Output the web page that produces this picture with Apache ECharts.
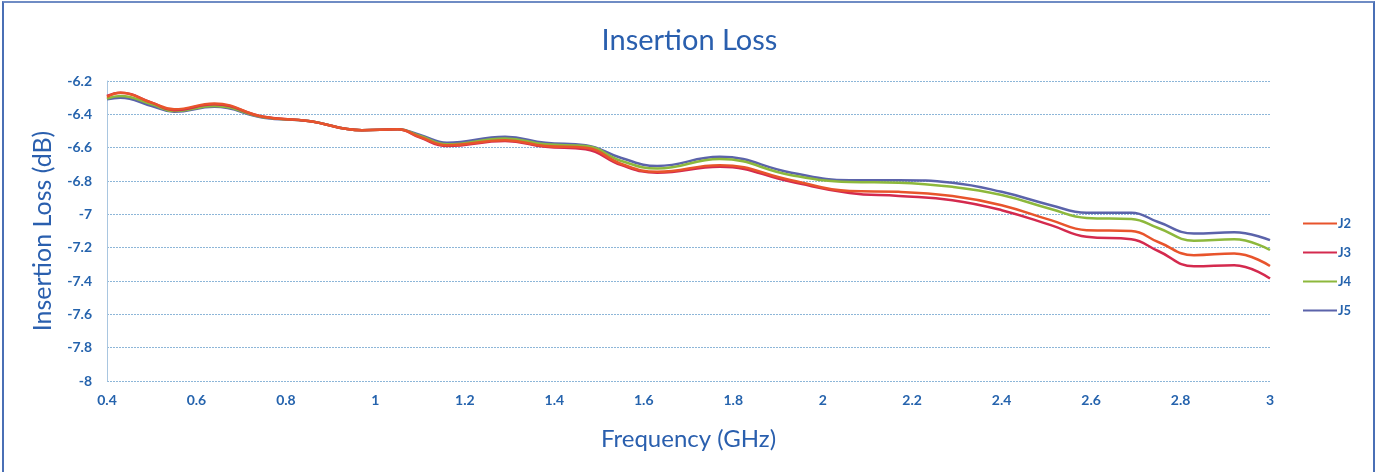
<!DOCTYPE html>
<html>
<head>
<meta charset="utf-8">
<script src="https://cdn.jsdelivr.net/npm/echarts@6/dist/echarts.min.js"></script>
<style>
html,body{margin:0;padding:0;background:#fff;}
#frame{position:absolute;left:2px;top:1px;width:1373px;height:471px;border-left:2px solid #4a6fb5;border-right:2px solid #4a6fb5;border-top:2px solid #6f8cc4;box-sizing:border-box;}
#chart{position:absolute;left:0;top:0;width:1379px;height:472px;}
</style>
</head>
<body>
<div id="frame"></div>
<div id="chart"></div>
<script>
const freqs = [0.4, 0.43, 0.5, 0.55, 0.64, 0.75, 0.85, 0.97, 1.05, 1.10, 1.16, 1.29, 1.38, 1.47, 1.55, 1.63, 1.77, 1.93, 2.06, 2.17, 2.29, 2.40, 2.51, 2.59, 2.69, 2.75, 2.83, 2.92, 3.0];
const J2 = [-6.295, -6.27, -6.33, -6.37, -6.335, -6.415, -6.44, -6.495, -6.49, -6.536, -6.585, -6.555, -6.59, -6.60, -6.698, -6.745, -6.705, -6.795, -6.86, -6.865, -6.89, -6.945, -7.035, -7.095, -7.10, -7.166, -7.245, -7.235, -7.31];
const J3 = [-6.29, -6.27, -6.33, -6.375, -6.34, -6.415, -6.44, -6.495, -6.49, -6.54, -6.59, -6.56, -6.595, -6.61, -6.705, -6.75, -6.715, -6.805, -6.872, -6.89, -6.915, -6.975, -7.065, -7.135, -7.15, -7.22, -7.312, -7.305, -7.385];
const J4 = [-6.305, -6.29, -6.34, -6.38, -6.35, -6.418, -6.44, -6.495, -6.49, -6.53, -6.58, -6.545, -6.58, -6.59, -6.68, -6.725, -6.668, -6.765, -6.806, -6.81, -6.835, -6.884, -6.968, -7.022, -7.028, -7.082, -7.158, -7.15, -7.214];
const J5 = [-6.31, -6.30, -6.35, -6.385, -6.355, -6.42, -6.44, -6.495, -6.49, -6.524, -6.57, -6.535, -6.57, -6.585, -6.662, -6.71, -6.655, -6.75, -6.795, -6.795, -6.81, -6.865, -6.945, -6.99, -6.99, -7.046, -7.115, -7.108, -7.155];
const seriesNames = ['J2', 'J3', 'J4', 'J5'];
const seriesData = [J2, J3, J4, J5];
const colors = ['#e8542c', '#d42a4e', '#8db83c', '#5b63aa'];

const textColor = '#2563ad';
const font = 'Lato, "Open Sans", sans-serif';
const chart = echarts.init(document.getElementById('chart'));
chart.setOption({
  animation: false,
  title: {
    text: 'Insertion Loss', left: 'center', top: 21,
    textStyle: {color: '#2a5fae', fontSize: 29, fontWeight: 'normal', fontFamily: font}
  },
  legend: {
    orient: 'vertical', left: 1298, top: 212, itemGap: 16, itemWidth: 34, itemHeight: 15,
    icon: 'path://M0,6 L34,6 L34,8 L0,8 Z',
    textStyle: {color: textColor, fontSize: 13, fontWeight: 'bold', fontFamily: font, padding: [0,0,0,-4]},
    data: seriesNames
  },
  grid: {left: 107, right: 109, top: 81, bottom: 91, containLabel: false},
  xAxis: {
    type: 'value', min: 0.4, max: 3, interval: 0.2,
    name: 'Frequency (GHz)', nameLocation: 'middle', nameGap: 46,
    nameTextStyle: {color: '#2a5fae', fontSize: 24, fontFamily: font},
    axisLine: {show: false}, axisTick: {show: false},
    splitLine: {show: false},
    axisLabel: {color: textColor, fontSize: 14, fontWeight: 'bold', fontFamily: font, margin: 12,
      formatter: v => String(Math.round(v * 10) / 10)}
  },
  yAxis: {
    type: 'value', min: -8, max: -6.2, interval: 0.2,
    name: 'Insertion Loss (dB)', nameLocation: 'middle', nameGap: 52, nameRotate: 90,
    nameTextStyle: {color: '#2a5fae', fontSize: 25, fontFamily: font},
    axisLine: {show: true, lineStyle: {color: '#a9c6e0', width: 1}}, axisTick: {show: false},
    splitLine: {show: true, lineStyle: {color: '#8db6d8', width: 1, type: [2, 1]}},
    axisLabel: {color: textColor, fontSize: 14, fontWeight: 'bold', fontFamily: font, margin: 15,
      formatter: v => String(Math.round(v * 10) / 10)}
  },
  series: seriesNames.map((n, i) => ({
    name: n, type: 'line', smooth: 0.45, showSymbol: false,
    data: freqs.map((f, k) => [f, seriesData[i][k]]),
    lineStyle: {color: colors[i], width: 2.5},
    itemStyle: {color: colors[i]},
    z: 10 - i
  }))
});
</script>
</body>
</html>
